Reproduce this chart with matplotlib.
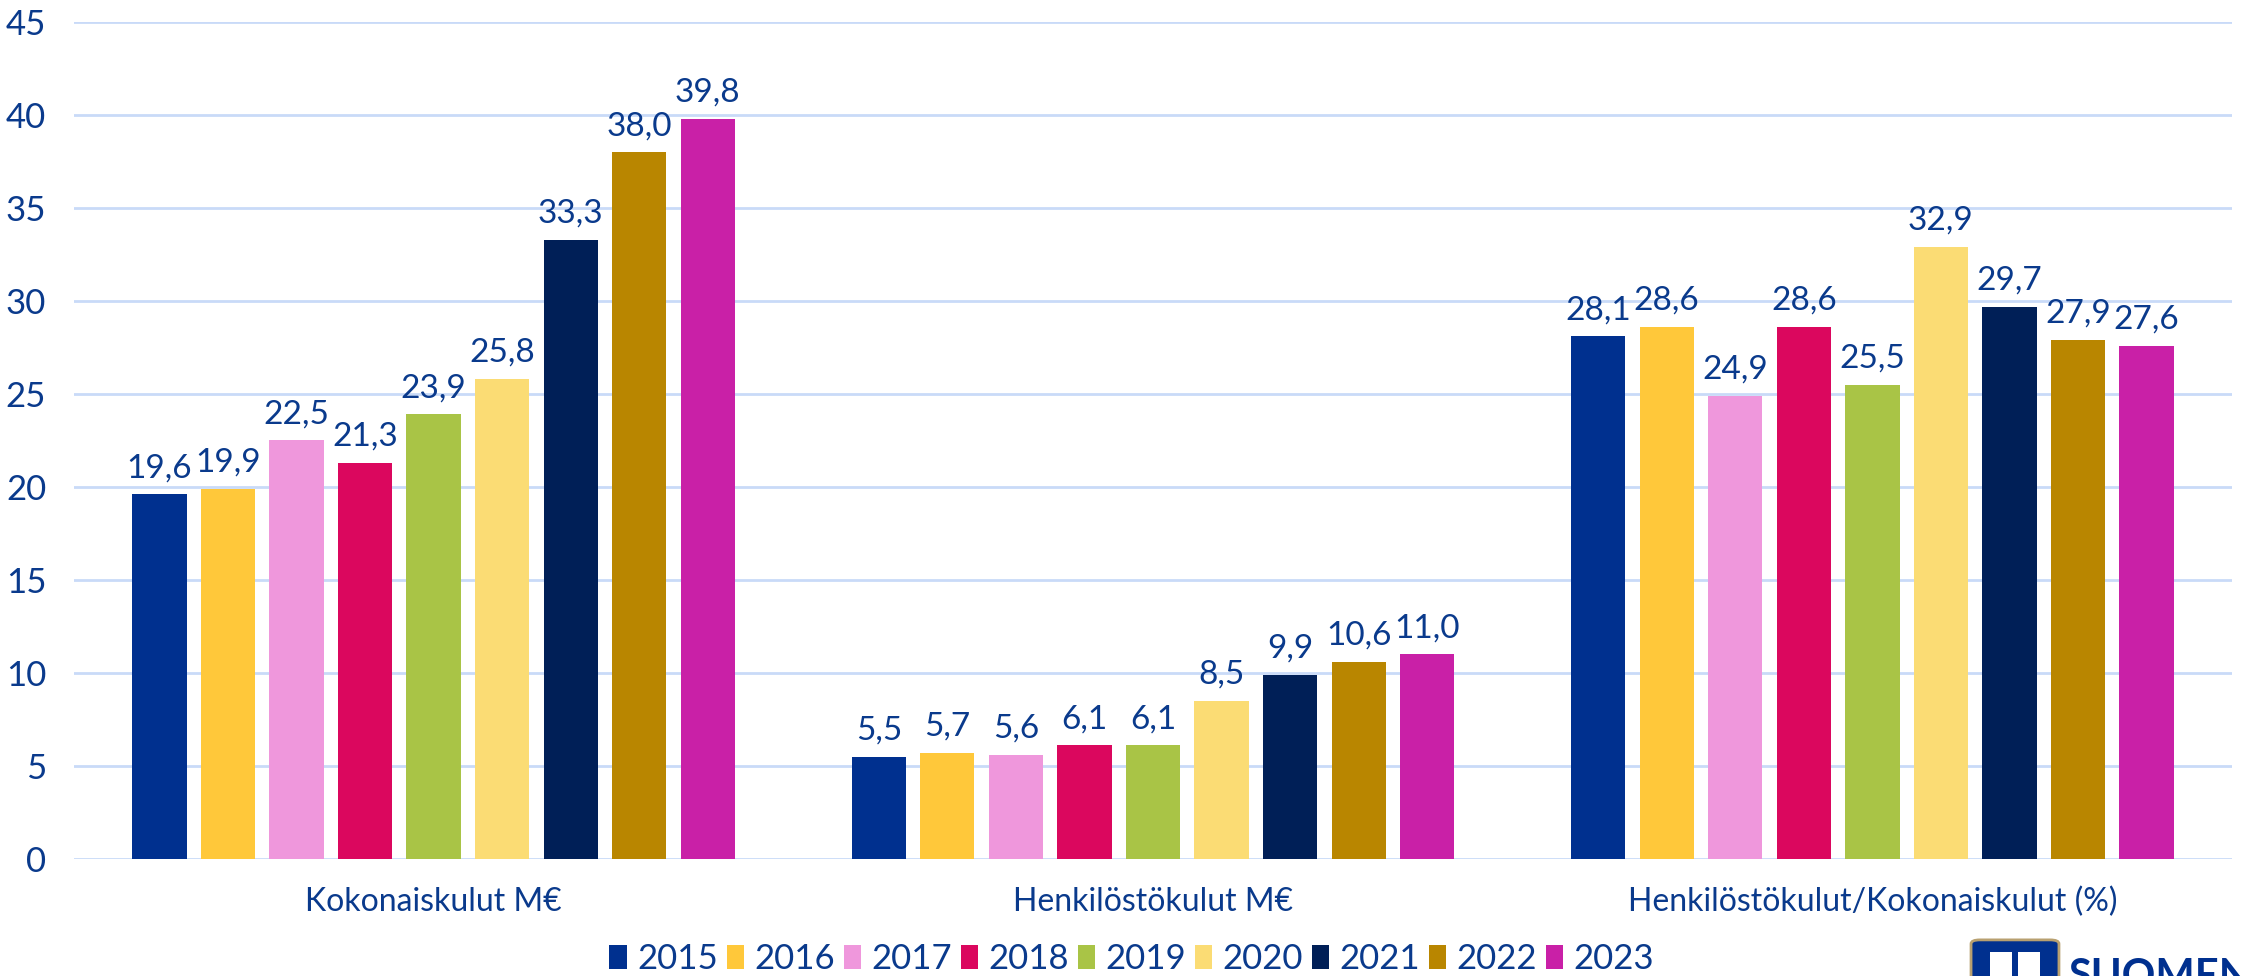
import matplotlib.pyplot as plt
import numpy as np
from matplotlib.patches import FancyBboxPatch, Rectangle

categories = ['Kokonaiskulut M€', 'Henkilöstökulut M€', 'Henkilöstökulut/Kokonaiskulut (%)']
years = ['2015', '2016', '2017', '2018', '2019', '2020', '2021', '2022', '2023']
kokonais = [19.6, 19.9, 22.5, 21.3, 23.9, 25.8, 33.3, 38.0, 39.8]
henkilo = [5.5, 5.7, 5.6, 6.1, 6.1, 8.5, 9.9, 10.6, 11.0]
osuus = [28.1, 28.6, 24.9, 28.6, 25.5, 32.9, 29.7, 27.9, 27.6]
colors = ['#00308F', '#FFC83A', '#EF97DC', '#DB075E', '#A9C446',
          '#FBDC74', '#001F57', '#B98600', '#C920A7']

text_col = '#0A3A8C'
grid_col = '#C9DAF8'
plt.rcParams['font.family'] = ['Lato', 'DejaVu Sans']

fig = plt.figure(figsize=(22.41, 9.76), dpi=100)
ax = fig.add_axes([0.033, 0.12, 0.963, 0.8575])

x = np.arange(len(categories))
pitch = 0.0953
width = 0.0755
for j, yr in enumerate(years):
    vals = [kokonais[j], henkilo[j], osuus[j]]
    pos = x + (j - 4) * pitch
    bars = ax.bar(pos, vals, width, color=colors[j], label=yr, zorder=3)
    for b, v in zip(bars, vals):
        ax.annotate(f'{v:.1f}'.replace('.', ','), (b.get_x() + b.get_width() / 2, v),
                    xytext=(0, 8), textcoords='offset points', ha='center', va='bottom',
                    fontsize=24, color=text_col)

ax.set_xlim(-0.5, 2.5)
ax.set_ylim(0, 45)
ax.set_yticks(range(0, 46, 5))
ax.yaxis.grid(True, color=grid_col, linewidth=2)
ax.set_axisbelow(True)
for s in ax.spines.values():
    s.set_visible(False)
ax.tick_params(axis='both', length=0, colors=text_col)
ax.tick_params(axis='x', pad=20, labelsize=23)
ax.tick_params(axis='y', pad=20, labelsize=25)
ax.set_xticks(x)
ax.set_xticklabels(categories)

fig.legend(*ax.get_legend_handles_labels(), loc='center', bbox_to_anchor=(0.505, 0.017),
           ncol=9, frameon=False, fontsize=25, labelcolor=text_col, handlelength=0.5,
           handleheight=0.7, handletextpad=0.3, columnspacing=0.25)

# logo in the corner (partially cut off like the reference)
logo = FancyBboxPatch((1980 / 2241, -0.03), 70 / 2241, 0.063, boxstyle='round,pad=0.004',
                      transform=fig.transFigure, facecolor='#00308F', edgecolor='#B8A070',
                      linewidth=2, clip_on=False)
fig.patches.append(logo)
fig.patches.append(Rectangle((1990 / 2241, 0.0), 22 / 2241, 0.025, transform=fig.transFigure,
                             facecolor='white', edgecolor='none'))
fig.patches.append(Rectangle((2018 / 2241, 0.0), 22 / 2241, 0.025, transform=fig.transFigure,
                             facecolor='white', edgecolor='none'))
fig.text(2068 / 2241, -0.02, 'SUOMEN', fontsize=30, fontweight='bold', color='#00308F',
         ha='left', va='bottom')

fig.savefig('out.png', dpi=100)
